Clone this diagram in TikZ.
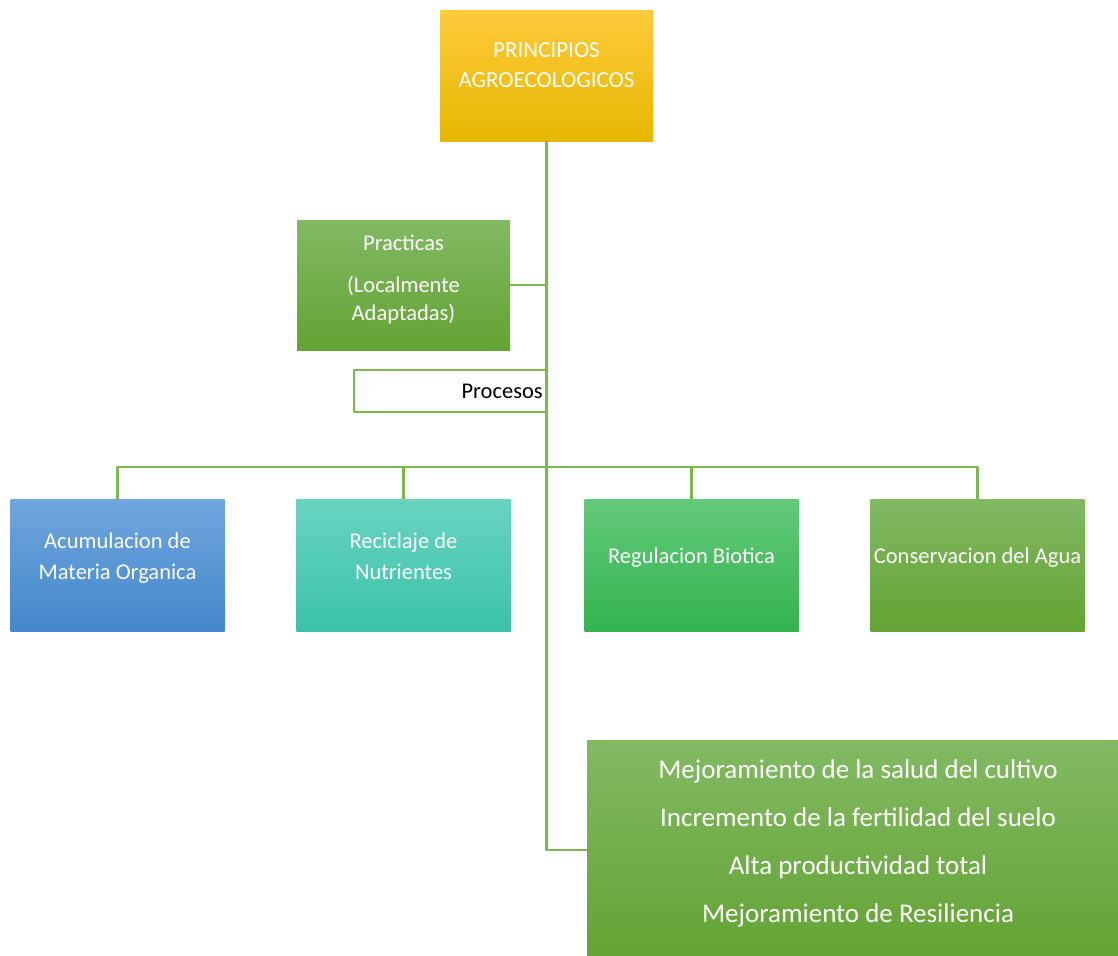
\documentclass[tikz,border=0pt]{standalone}
\usepackage{fontspec}
\setmainfont{Carlito}
\definecolor{linegreen}{HTML}{7DB84F}
\definecolor{goldtop}{HTML}{FFCA3C}
\definecolor{goldbot}{HTML}{E6B700}
\definecolor{bluetop}{HTML}{70A6DE}
\definecolor{bluebot}{HTML}{4487CA}
\definecolor{tealtop}{HTML}{68D4C0}
\definecolor{tealbot}{HTML}{3CC1A9}
\definecolor{greentop}{HTML}{63C97A}
\definecolor{greenbot}{HTML}{33B44F}
\definecolor{olivetop}{HTML}{82B963}
\definecolor{olivebot}{HTML}{63A333}
\begin{document}
\begin{tikzpicture}[x=1pt, y=-1pt, line join=round,
    box/.style={minimum width=213pt, minimum height=130pt, inner sep=0pt,
        align=center, text=white, font=\fontsize{22.5}{31}\selectfont},
    leaf/.style={box, minimum width=214pt, minimum height=132pt},
    link/.style={draw=linegreen, line width=2.5pt}]
\useasboundingbox (0,0) rectangle (1118,955);
\clip (0,0) rectangle (1118,955);
\coordinate (bus) at (548,467);
\node[box, font=\fontsize{23}{30}\selectfont, top color=goldtop, bottom color=goldbot] (top) at (546.5,76) {PRINCIPIOS\\AGROECOLOGICOS\\[-8pt]\mbox{}};
\node[box, font=\fontsize{22.5}{28}\selectfont, top color=olivetop, bottom color=olivebot] (prac) at (403.5,285) {Practicas\\[14pt](Localmente\\Adaptadas)\\[-14pt]\mbox{}};
\node[draw=linegreen, line width=2.5pt, text width=185pt, align=right, minimum height=42pt, inner xsep=4pt, inner ysep=0pt,
      text=black, font=\fontsize{22.5}{24}\selectfont, anchor=east] (proc) at (548,391) {Procesos};
        \node[leaf, top color=bluetop, bottom color=bluebot] (acum) at (117.5,565) {Acumulacion de\\Materia Organica\\[-14pt]\mbox{}};
        \node[leaf, top color=tealtop, bottom color=tealbot] (recic) at (403.5,565) {Reciclaje de\\Nutrientes\\[-14pt]\mbox{}};
        \node[leaf, top color=greentop, bottom color=greenbot] (regul) at (691.5,565) {Regulacion Biotica\\[-12pt]\mbox{}};
        \node[leaf, top color=olivetop, bottom color=olivebot] (agua) at (977.5,565) {Conservacion del Agua\\[-12pt]\mbox{}};
\node[box, minimum width=545pt, minimum height=220pt, anchor=north west, top color=olivetop, bottom color=olivebot] (res) at (587,740) {};
\node[align=center, text=white, font=\fontsize{27}{48}\selectfont] (restext) at (858,843) {Mejoramiento de la salud del cultivo\\Incremento de la fertilidad del suelo\\Alta productividad total\\Mejoramiento de Resiliencia};
        \draw[link] (top.south) |- (res.west);
        \draw[link] (prac.east) -- (prac.east -| top.south);
        \draw[link] (acum.north) -- (acum.north |- bus) -| (agua.north);
        \draw[link] (recic.north) -- (recic.north |- bus);
        \draw[link] (regul.north) -- (regul.north |- bus);
    \end{tikzpicture}
\end{document}
